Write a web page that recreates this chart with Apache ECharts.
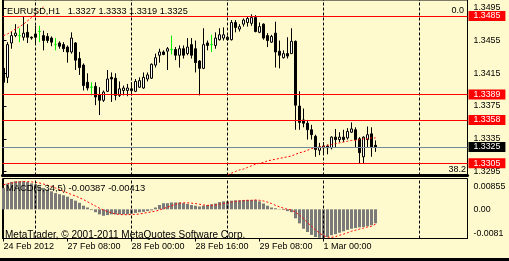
<!DOCTYPE html>
<html><head><meta charset="utf-8">
<script src="https://cdn.jsdelivr.net/npm/echarts@6/dist/echarts.min.js"></script>
<style>html,body{margin:0;padding:0;background:#FFFACD;}#c{width:509px;height:261px;}</style>
</head><body><div id="c"></div>
<script>
// ---------- data ----------
const headerText = 'EURUSD,H1   1.3327 1.3333 1.3319 1.3325';
const macdText = 'MACD(5,34,5) -0.00387 -0.00413';
const copyrightText = 'MetaTrader, \u00a9 2001-2011 MetaQuotes Software Corp.';

const opens = [1.3421,1.3410,1.3452,1.3461,1.3461,1.3459,1.3465,1.3459,1.3463,1.3466,
1.3461,1.3460,1.3458,1.3450,1.3452,1.3450,1.3447,1.3441,1.3452,1.3433,
1.3425,1.3404,1.3398,1.3399,1.3389,1.3382,1.3393,1.3410,1.3409,1.3388,
1.3394,1.3394,1.3396,1.3393,1.3398,1.3397,1.3408,1.3409,1.3425,1.3437,
1.3441,1.3442,1.3444,1.3444,1.3437,1.3445,1.3439,1.3450,1.3445,1.3430,
1.3421,1.3452,1.3450,1.3449,1.3456,1.3458,1.3456,1.3456,1.3477,1.3469,
1.3475,1.3477,1.3476,1.3483,1.3465,1.3475,1.3461,1.3453,1.3464,1.3442,
1.3434,1.3439,1.3439,1.3454,1.3375,1.3358,1.3354,1.3346,1.3338,1.3321,
1.3324,1.3326,1.3324,1.3337,1.3334,1.3337,1.3336,1.3343,1.3346,1.3335,
1.3313,1.3334,1.3341,1.3327];
const closes = [1.3404,1.3450,1.3461,1.3464,1.3461,1.3464,1.3459,1.3458,1.3459,1.3466,
1.3455,1.3455,1.3453,1.3450,1.3448,1.3445,1.3441,1.3458,1.3431,1.3422,
1.3400,1.3397,1.3398,1.3386,1.3382,1.3392,1.3408,1.3408,1.3388,1.3396,
1.3397,1.3397,1.3394,1.3405,1.3406,1.3410,1.3413,1.3426,1.3434,1.3441,
1.3438,1.3445,1.3444,1.3437,1.3445,1.3437,1.3447,1.3437,1.3428,1.3421,
1.3450,1.3449,1.3450,1.3458,1.3462,1.3462,1.3459,1.3477,1.3471,1.3472,
1.3480,1.3482,1.3483,1.3466,1.3472,1.3458,1.3455,1.3460,1.3441,1.3437,
1.3439,1.3436,1.3454,1.3376,1.3355,1.3354,1.3346,1.3340,1.3322,1.3325,
1.3326,1.3324,1.3337,1.3334,1.3337,1.3334,1.3344,1.3347,1.3334,1.3318,
1.3337,1.3340,1.3325,1.3325];
const highs = [1.3424,1.3453,1.3466,1.3475,1.3470,1.3484,1.3475,1.3460,1.3473,1.3473,
1.3467,1.3464,1.3460,1.3458,1.3454,1.3453,1.3449,1.3465,1.3453,1.3441,
1.3427,1.3415,1.3404,1.3404,1.3398,1.3394,1.3419,1.3416,1.3415,1.3405,
1.3400,1.3402,1.3404,1.3408,1.3410,1.3416,1.3416,1.3427,1.3439,1.3445,
1.3443,1.3447,1.3461,1.3447,1.3449,1.3449,1.3458,1.3458,1.3455,1.3431,
1.3470,1.3455,1.3462,1.3465,1.3470,1.3471,1.3461,1.3480,1.3480,1.3475,
1.3482,1.3484,1.3487,1.3486,1.3477,1.3476,1.3464,1.3462,1.3478,1.3455,
1.3443,1.3459,1.3470,1.3455,1.3393,1.3372,1.3358,1.3352,1.3340,1.3330,
1.3331,1.3328,1.3338,1.3347,1.3343,1.3346,1.3348,1.3355,1.3349,1.3337,
1.3338,1.3350,1.3349,1.3333];
const lows = [1.3402,1.3403,1.3445,1.3459,1.3453,1.3455,1.3452,1.3456,1.3452,1.3453,
1.3443,1.3452,1.3448,1.3443,1.3445,1.3441,1.3428,1.3439,1.3419,1.3413,
1.3394,1.3394,1.3388,1.3376,1.3364,1.3380,1.3392,1.3380,1.3382,1.3386,
1.3388,1.3387,1.3388,1.3392,1.3397,1.3396,1.3405,1.3408,1.3422,1.3428,
1.3437,1.3419,1.3438,1.3431,1.3422,1.3433,1.3437,1.3433,1.3416,1.3388,
1.3420,1.3443,1.3441,1.3445,1.3455,1.3455,1.3455,1.3455,1.3465,1.3466,
1.3472,1.3472,1.3473,1.3465,1.3464,1.3456,1.3447,1.3452,1.3422,1.3421,
1.3433,1.3433,1.3439,1.3346,1.3346,1.3349,1.3334,1.3334,1.3313,1.3315,
1.3315,1.3316,1.3322,1.3325,1.3331,1.3331,1.3334,1.3342,1.3324,1.3305,
1.3305,1.3324,1.3313,1.3319];

// moving average (red dotted), visible parts only
const maLeftStart = 0;
const maLeft = [1.3461,1.3463,1.3466,1.3469,1.3472,1.3475,1.3479,1.3483,1.3487,1.3492,1.3496];
const maRightStart = 56;
const maRight = [1.3291,1.3293,1.3295,1.3297,1.3298,1.3300,1.3302,1.3304,1.3305,1.3306,
1.3308,1.3309,1.3310,1.3311,1.3312,1.3313,1.3314,1.3316,1.3318,1.3319,
1.3321,1.3323,1.3324,1.3325,1.3326,1.3327,1.3328,1.3329,1.3330,1.3331,
1.3332,1.3333,1.3333,1.3334,1.3335,1.3335,1.3336,1.3336];

const macdHist = [0.0059,0.0071,0.0076,0.0078,0.0078,0.0078,0.0076,0.0072,0.0069,0.0063,
0.0059,0.0055,0.0050,0.0045,0.0042,0.0039,0.0035,0.0029,0.0024,0.0018,
0.0010,0.0005,-0.0002,-0.0008,-0.0014,-0.0018,-0.0016,-0.0014,-0.0014,-0.0014,
-0.0014,-0.0014,-0.0012,-0.0010,-0.0008,-0.0007,-0.0005,-0.0003,0.0005,0.0012,
0.0017,0.0017,0.0019,0.0019,0.0019,0.0017,0.0015,0.0012,0.0010,0.0008,
0.0010,0.0012,0.0014,0.0016,0.0020,0.0022,0.0022,0.0024,0.0025,0.0025,
0.0026,0.0026,0.0026,0.0026,0.0022,0.0016,0.0010,0.0005,0.0003,0.0001,
-0.0002,-0.0005,-0.0008,-0.0025,-0.0039,-0.0054,-0.0063,-0.0071,-0.0077,-0.0079,
-0.0080,-0.0077,-0.0072,-0.0069,-0.0065,-0.0061,-0.0057,-0.0054,-0.0052,-0.0050,
-0.0049,-0.0047,-0.0044,-0.00387];
const macdSignal = [0.0068,0.0071,0.0073,0.0075,0.0076,0.0077,0.0077,0.0076,0.0075,0.0073,
0.0070,0.0067,0.0063,0.0059,0.0055,0.0050,0.0046,0.0041,0.0037,0.0032,
0.0027,0.0021,0.0015,0.0009,0.0003,-0.0002,-0.0006,-0.0010,-0.0013,-0.0014,
-0.0015,-0.0015,-0.0014,-0.0014,-0.0013,-0.0011,-0.0009,-0.0007,-0.0005,-0.0002,
0.0002,0.0006,0.0010,0.0014,0.0017,0.0018,0.0018,0.0017,0.0016,0.0014,
0.0012,0.0011,0.0011,0.0012,0.0014,0.0016,0.0018,0.0020,0.0022,0.0023,
0.0024,0.0025,0.0025,0.0026,0.0025,0.0023,0.0020,0.0016,0.0011,0.0007,
0.0003,0.0000,-0.0002,-0.0008,-0.0016,-0.0026,-0.0037,-0.0047,-0.0057,-0.0066,
-0.0073,-0.0077,-0.0078,-0.0076,-0.0072,-0.0069,-0.0065,-0.0061,-0.0058,-0.0055,
-0.0052,-0.0049,-0.0047,-0.00413];

const redLevels = [1.3485, 1.3389, 1.3358, 1.3305];
const bidLevel = 1.3325;
const fibLabelTop = '0.0';
const fibLabelBottom = '38.2';

const priceTicks = [1.3495, 1.3455, 1.3415, 1.3375, 1.3335, 1.3295];
const priceRange = [1.329014, 1.350449];
const macdTicks = [0.00855, 0, -0.0081];
const macdTickLabels = ['0.00855', '0.00', '-0.0081'];
const macdRange = [-0.0081, 0.00855];
const timeTickBars = [0, 16, 32, 48, 64, 80];
const timeTickLabels = ['24 Feb 2012', '27 Feb 08:00', '28 Feb 00:00', '28 Feb 16:00', '29 Feb 08:00', '1 Mar 00:00'];
const dayBreakBars = [8, 32, 56, 80, 104];
const barRange = [-0.25, 116];

// ---------- chart ----------
const FONT = "'Liberation Sans', Arial, sans-serif";
const FS_AXIS = 8.8;
const BG = '#FFFACD';
const DOJI = '#00ee00';
const RED = '#ff0000';

const candleData = opens.map((o, i) => {
  const item = { value: [i, o, closes[i], lows[i], highs[i]] };
  if (o === closes[i]) item.itemStyle = { color: DOJI, color0: DOJI, borderColor: DOJI, borderColor0: DOJI };
  return item;
});
const dayLines = dayBreakBars.map(b => ({ xAxis: b }));
function levelLine(v, lineColor, boxColor) {
  return {
    yAxis: v,
    lineStyle: { color: lineColor, width: 1, type: 'solid' },
    label: { show: true, position: 'end', distance: 1, formatter: () => v.toFixed(4),
      backgroundColor: boxColor, color: '#fff', padding: [0, 5, 0, 5], lineHeight: 10,
      fontSize: FS_AXIS, fontFamily: FONT }
  };
}
const levelLines = redLevels.map(v => levelLine(v, RED, RED));
levelLines.push(levelLine(bidLevel, '#778899', '#000'));

const axisText = { color: '#000', fontSize: FS_AXIS, fontFamily: FONT };

const option = {
  backgroundColor: BG,
  animation: false,
  grid: [
    { left: 2.5, right: 41.5, top: -0.5, height: 176, show: true, borderColor: '#000', borderWidth: 1 },
    { left: 2.5, right: 41.5, top: 178.5, height: 60, show: true, borderColor: '#000', borderWidth: 1 }
  ],
  xAxis: [
    { type: 'value', gridIndex: 0, min: barRange[0], max: barRange[1],
      axisLine: { show: true, onZero: false, lineStyle: { color: '#000', width: 3 } },
      axisTick: { show: false }, axisLabel: { show: false }, splitLine: { show: false } },
    { type: 'value', gridIndex: 1, min: barRange[0], max: barRange[1],
      axisLine: { show: true, onZero: false, lineStyle: { color: '#000', width: 1 } },
      axisTick: { show: true, customValues: timeTickBars, length: 3, lineStyle: { color: '#000' } },
      axisLabel: { customValues: timeTickBars, align: 'left', margin: 4, color: '#000', fontSize: 9, fontFamily: FONT,
        formatter: v => timeTickLabels[timeTickBars.indexOf(v)] },
      splitLine: { show: false } }
  ],
  yAxis: [
    { type: 'value', gridIndex: 0, position: 'right', min: priceRange[0], max: priceRange[1],
      axisLine: { show: true, lineStyle: { color: '#000' } },
      axisTick: { show: true, customValues: priceTicks, length: 3, lineStyle: { color: '#000' } },
      axisLabel: Object.assign({ customValues: priceTicks, margin: 6, formatter: v => v.toFixed(4) }, axisText),
      splitLine: { show: false } },
    { type: 'value', gridIndex: 1, position: 'right', min: macdRange[0], max: macdRange[1],
      axisLine: { show: true, lineStyle: { color: '#000' } },
      axisTick: { show: false },
      axisLabel: Object.assign({ customValues: macdTicks, margin: 6,
        formatter: v => {
          const k = macdTicks.indexOf(v);
          const key = k === 0 ? 't' : (k === macdTicks.length - 1 ? 'b' : 'm');
          return '{' + key + '|' + macdTickLabels[k] + '}';
        },
        rich: {
          t: { padding: [16, 0, 0, 0], fontSize: FS_AXIS, fontFamily: FONT, color: '#000' },
          m: { fontSize: FS_AXIS, fontFamily: FONT, color: '#000' },
          b: { padding: [0, 0, 10, 0], fontSize: FS_AXIS, fontFamily: FONT, color: '#000' }
        } }, axisText),
      splitLine: { show: false } }
  ],
  series: [
    { type: 'candlestick', xAxisIndex: 0, yAxisIndex: 0, barWidth: 2, z: 3,
      encode: { x: 0, y: [1, 2, 3, 4] },
      data: candleData,
      itemStyle: { color: '#ffffff', color0: '#000000', borderColor: '#000000', borderColor0: '#000000', borderWidth: 1 } },
    { type: 'line', xAxisIndex: 0, yAxisIndex: 0, symbol: 'none', silent: true, z: 4,
      data: maLeft.map((v, k) => [maLeftStart + k, v]),
      lineStyle: { color: RED, width: 1, type: [2, 2] },
      markLine: { silent: true, symbol: ['none', 'none'], animation: false, precision: 4,
        lineStyle: { color: '#000', type: [3, 2], width: 1 }, label: { show: false },
        data: dayLines } },
    { type: 'line', xAxisIndex: 0, yAxisIndex: 0, symbol: 'none', silent: true, z: 4,
      data: maRight.map((v, k) => [maRightStart + k, v]),
      lineStyle: { color: RED, width: 1, type: [2, 2] },
      markLine: { silent: true, symbol: ['none', 'none'], animation: false, precision: 4,
        data: levelLines } },
    { type: 'bar', xAxisIndex: 1, yAxisIndex: 1, barWidth: 3,
      data: macdHist.map((v, i) => [i, v]),
      itemStyle: { color: '#7a7a7a' },
      markLine: { silent: true, symbol: ['none', 'none'], animation: false,
        lineStyle: { color: '#000', type: [3, 2], width: 1 }, label: { show: false },
        data: dayLines } },
    { type: 'line', xAxisIndex: 1, yAxisIndex: 1, symbol: 'none', silent: true,
      data: macdSignal.map((v, i) => [i, v]),
      lineStyle: { color: RED, width: 1, type: [2, 2] } }
  ],
  graphic: [
    { type: 'text', x: 7, y: 11, silent: true, z: 10, style: { text: headerText, fill: '#000', fontSize: 9.2, fontFamily: FONT, verticalAlign: 'middle' } },
    { type: 'text', x: 464, y: 10.5, silent: true, z: 10, style: { text: fibLabelTop, fill: '#000', fontSize: 9, fontFamily: FONT, align: 'right', verticalAlign: 'middle' } },
    { type: 'text', x: 466, y: 170, silent: true, z: 10, style: { text: fibLabelBottom, fill: '#000', fontSize: 9, fontFamily: FONT, align: 'right', verticalAlign: 'middle' } },
    { type: 'text', x: 6, y: 188.5, silent: true, z: 10, style: { text: macdText, fill: '#000', fontSize: 9.4, fontFamily: FONT, verticalAlign: 'middle' } },
    { type: 'text', x: 5, y: 235.5, silent: true, z: 10, style: { text: copyrightText, fill: '#000', fontSize: 10, fontFamily: FONT, verticalAlign: 'middle' } },
    { type: 'rect', left: 0, top: 258, silent: true, shape: { width: 509, height: 3 }, style: { fill: '#000' } }
  ]
};
const chart = echarts.init(document.getElementById('c'));
chart.setOption(option);
</script>
</body></html>
